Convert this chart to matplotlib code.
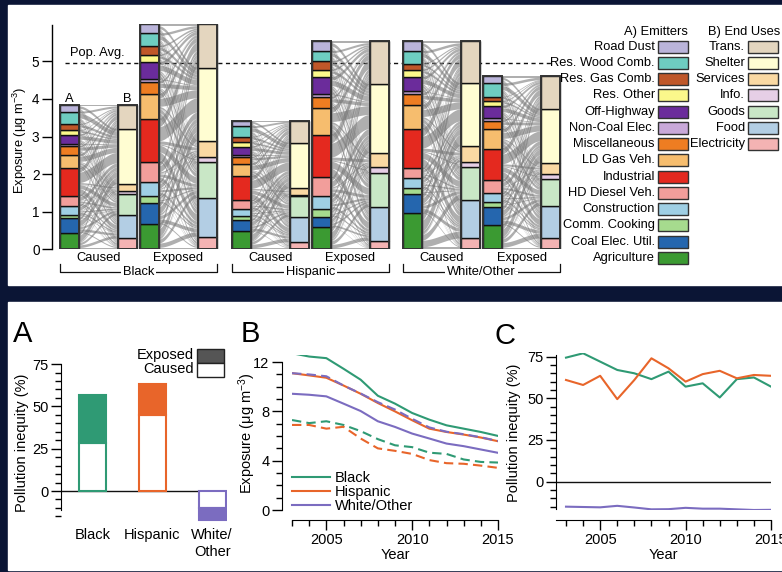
import numpy as np
import matplotlib
matplotlib.use('Agg')
import matplotlib.pyplot as plt
from matplotlib.patches import Rectangle
from matplotlib.ticker import MultipleLocator
from matplotlib.lines import Line2D

plt.rcParams['font.family'] = ['Liberation Sans', 'DejaVu Sans']
plt.rcParams['mathtext.default'] = 'regular'

# ---------------- data ----------------
emitters = ['Agriculture', 'Coal Elec. Util.', 'Comm. Cooking', 'Construction',
            'HD Diesel Veh.', 'Industrial', 'LD Gas Veh.', 'Miscellaneous',
            'Non-Coal Elec.', 'Off-Highway', 'Res. Other', 'Res. Gas Comb.',
            'Res. Wood Comb.', 'Road Dust']            # bottom -> top
end_uses = ['Electricity', 'Food', 'Goods', 'Info.', 'Services', 'Shelter', 'Trans.']
groups_top = ['Black', 'Hispanic', 'White/Other']

black_caused_em = [0.44, 0.39, 0.09, 0.24, 0.27, 0.73, 0.36, 0.22, 0.06, 0.25, 0.11, 0.17, 0.33, 0.17]
black_caused_use = [0.29, 0.62, 0.56, 0.07, 0.20, 1.46, 0.63]
black_exposed_em = [0.67, 0.56, 0.20, 0.37, 0.51, 1.16, 0.66, 0.33, 0.07, 0.44, 0.20, 0.24, 0.33, 0.24]
black_exposed_use = [0.34, 1.03, 0.94, 0.15, 0.43, 1.94, 1.15]
hisp_caused_em = [0.48, 0.31, 0.10, 0.18, 0.23, 0.64, 0.34, 0.17, 0.06, 0.22, 0.12, 0.14, 0.28, 0.15]
hisp_caused_use = [0.19, 0.68, 0.54, 0.04, 0.18, 1.20, 0.59]
hisp_exposed_em = [0.58, 0.29, 0.20, 0.35, 0.49, 1.14, 0.72, 0.28, 0.09, 0.43, 0.21, 0.22, 0.27, 0.27]
hisp_exposed_use = [0.23, 0.90, 0.91, 0.14, 0.39, 1.82, 1.15]
white_caused_em = [0.96, 0.50, 0.16, 0.28, 0.25, 1.06, 0.62, 0.31, 0.06, 0.38, 0.20, 0.16, 0.33, 0.26]
white_caused_use = [0.29, 1.02, 0.88, 0.14, 0.42, 1.67, 1.11]
white_exposed_em = [0.65, 0.48, 0.14, 0.22, 0.35, 0.84, 0.51, 0.23, 0.06, 0.33, 0.13, 0.11, 0.36, 0.19]
white_exposed_use = [0.29, 0.87, 0.71, 0.13, 0.30, 1.43, 0.87]
pop_avg = 4.95

groups_A = ['Black', 'Hispanic', 'White/\nOther']
caused_ineq = [28.5, 44.9, -10.2]
exposed_ineq = [56.7, 63.0, -17.1]

years = list(range(2003, 2016))
black_exp = [12.72, 12.45, 12.32, 11.46, 10.57, 9.27, 8.63, 7.87, 7.33, 6.87, 6.60, 6.33, 6.01]
black_cau = [7.30, 7.05, 7.20, 6.90, 6.40, 5.75, 5.25, 5.10, 4.65, 4.55, 4.10, 3.90, 3.85]
hisp_exp = [11.10, 10.92, 10.73, 10.10, 9.43, 8.68, 8.00, 7.28, 6.60, 6.33, 6.12, 5.88, 5.58]
hisp_cau = [6.90, 6.90, 6.60, 6.75, 5.80, 5.00, 4.80, 4.55, 4.05, 3.80, 3.75, 3.60, 3.42]
white_exp = [9.43, 9.35, 9.22, 8.63, 8.03, 7.20, 6.74, 6.20, 5.80, 5.39, 5.18, 4.91, 4.64]
white_cau = [11.10, 11.00, 10.85, 10.10, 9.45, 8.75, 8.15, 7.40, 6.70, 6.35, 6.15, 5.90, 5.60]

black_ineq = [74.4, 77.0, 72.0, 67.0, 65.0, 61.5, 66.0, 57.0, 59.0, 50.5, 61.5, 62.5, 57.0]
hisp_ineq = [61.0, 58.0, 63.5, 49.5, 61.0, 74.0, 68.0, 60.0, 64.5, 66.5, 62.0, 64.0, 63.5]
white_ineq = [-15.0, -15.2, -15.4, -14.5, -15.5, -16.6, -16.5, -15.7, -16.2, -16.2, -16.6, -17.0, -16.9]

# ---------------- styles ----------------
em_colors = ['#3b9a32', '#2566ae', '#a6db8e', '#9fcfe4', '#f29e9b', '#e4291f',
             '#f6bd6e', '#ee7d22', '#c9a9d9', '#6b2c9b', '#fbf88b', '#bf5729',
             '#6ecdc1', '#bab4da']
use_colors = ['#f4b3b3', '#b3cee4', '#c9e7c6', '#e6cfe6', '#fad9a3', '#fffdd2', '#e4d6bf']
c_black, c_hisp, c_white = '#2f9a74', '#e8652a', '#7b6cc0'
ink = '#111111'
fs_top = 9.3
fs_bot = 10.5

W, H = 782, 572
fig = plt.figure(figsize=(W / 100, H / 100), dpi=100, facecolor='#0b1535')


def ax_px(x0, y0, x1, y1):
    return fig.add_axes([x0 / W, 1 - y1 / H, (x1 - x0) / W, (y1 - y0) / H])


bg = ax_px(0, 0, W, H)
bg.set_xlim(0, W); bg.set_ylim(H, 0); bg.axis('off')
bg.add_patch(Rectangle((8, 5), W - 8, 280, color='white'))
bg.add_patch(Rectangle((8, 302), W - 8, 268, color='white'))

# ---------------- top alluvial panel ----------------
ax = ax_px(52, 23.7, 782, 249.3)
ax.set_xlim(52, 782); ax.set_ylim(0, 6)
ax.patch.set_alpha(0)
for s in ['top', 'right', 'bottom']:
    ax.spines[s].set_visible(False)
ax.spines['left'].set_bounds(0, 5.97)
ax.spines['left'].set_linewidth(1.0)
ax.set_xticks([])
ax.set_yticks(range(6))
ax.tick_params(axis='y', length=7, width=1, labelsize=9.8, pad=2)

colw = 19
gap = 58
t = np.linspace(0, 1, 40)
s = 3 * t ** 2 - 2 * t ** 3


def column(x, vals, colors):
    vals = np.asarray(vals)
    bottoms = np.concatenate([[0], np.cumsum(vals)[:-1]])
    ax.bar(x, vals, bottom=bottoms, width=colw, align='edge', color=colors,
           edgecolor=ink, linewidth=1.0, zorder=4)
    ax.bar(x, vals.sum(), width=colw, align='edge', fill=False,
           edgecolor='#333333', linewidth=1.4, zorder=5)


def alluvial(x, em, use):
    em = np.asarray(em); use = np.asarray(use)
    tot = em.sum()
    flows = np.outer(em, use) / tot
    e_lo = np.concatenate([[0], np.cumsum(em)[:-1]])
    u_lo = np.concatenate([[0], np.cumsum(use)[:-1]])
    xa, xb = x + colw, x + gap
    xs = xa + (xb - xa) * t
    for i in range(len(em)):
        for j in range(len(use)):
            f = flows[i, j]
            a0 = e_lo[i] + flows[i, :j].sum()
            b0 = u_lo[j] + flows[:i, j].sum()
            bot = a0 + (b0 - a0) * s
            top = bot + f
            ax.fill(np.concatenate([xs, xs[::-1]]), np.concatenate([top, bot[::-1]]),
                    color='#7a7a7a', alpha=0.6, lw=0, zorder=2)
    column(x, em, em_colors)
    column(x + gap, use, use_colors)


group_x = [60, 232, 403]
data_top = [(black_caused_em, black_caused_use, black_exposed_em, black_exposed_use),
            (hisp_caused_em, hisp_caused_use, hisp_exposed_em, hisp_exposed_use),
            (white_caused_em, white_caused_use, white_exposed_em, white_exposed_use)]

ax.plot([65, 552], [pop_avg, pop_avg], color=ink, lw=1.0, ls=(0, (3, 2.5)), zorder=1)
ax.text(70, 5.22, 'Pop. Avg.', fontsize=fs_top, ha='left', va='center')

for gx, name, (ce, cu, ee, eu) in zip(group_x, groups_top, data_top):
    alluvial(gx, ce, cu)
    alluvial(gx + 80, ee, eu)
    ax.text(gx + (colw + gap) / 2, -0.24, 'Caused', fontsize=fs_top, ha='center', va='center', clip_on=False)
    ax.text(gx + 80 + (colw + gap) / 2, -0.24, 'Exposed', fontsize=fs_top, ha='center', va='center', clip_on=False)
    x0, x1 = gx, gx + 80 + gap + colw
    ax.plot([x0, x0, x1, x1], [-0.39, -0.60, -0.60, -0.39], color=ink, lw=0.9, clip_on=False)
    ax.text((x0 + x1) / 2, -0.60, name, fontsize=fs_top, ha='center', va='center', clip_on=False,
            bbox=dict(facecolor='white', edgecolor='none', pad=1.5))

ax.text(group_x[0] + colw / 2, 4.0, 'A', fontsize=fs_top, ha='center', va='center')
ax.text(group_x[0] + gap + colw / 2, 4.0, 'B', fontsize=fs_top, ha='center', va='center')

fig.text(20 / W, 1 - 140 / H, 'Exposure (μg m$^{-3}$)', rotation=90, fontsize=fs_top,
         ha='center', va='center')

# ---------------- panel A ----------------
axA = ax_px(61, 364.1, 227, 521.5)
axA.set_xlim(-0.53, 2.25); axA.set_ylim(-18, 75)
axA.patch.set_alpha(0)
cols = [c_black, c_hisp, c_white]
for i in range(3):
    axA.bar(i, caused_ineq[i], width=0.45, facecolor='white', edgecolor=cols[i], lw=1.5, zorder=3)
    axA.bar(i, exposed_ineq[i] - caused_ineq[i], bottom=caused_ineq[i], width=0.45,
            facecolor=cols[i], edgecolor=cols[i], lw=1.5, zorder=3)
axA.plot([-0.53, 2.22], [0, 0], color=ink, lw=1.0, zorder=2)
for s_ in ['top', 'right', 'bottom']:
    axA.spines[s_].set_visible(False)
axA.spines['left'].set_bounds(-11.5, 75)
axA.yaxis.set_major_locator(MultipleLocator(25))
axA.yaxis.set_minor_locator(MultipleLocator(5))
axA.tick_params(axis='y', which='major', length=7, width=1, labelsize=fs_bot, pad=2)
axA.tick_params(axis='y', which='minor', length=4, width=1)
axA.set_xticks(range(3))
axA.set_xticklabels(groups_A, fontsize=fs_bot)
axA.tick_params(axis='x', length=0, pad=5)
fig.text(22 / W, 1 - 443 / H, 'Pollution inequity (%)', rotation=90, fontsize=fs_bot,
         ha='center', va='center')

# ---------------- panel B ----------------
axB = ax_px(292, 354.7, 498, 510)
axB.set_xlim(2003, 2015); axB.set_ylim(0, 12.6)
axB.patch.set_alpha(0)
dash = (0, (4.5, 2.5))
axB.plot(years, black_exp, color=c_black, lw=1.5)
axB.plot(years, hisp_exp, color=c_hisp, lw=1.5)
axB.plot(years, white_exp, color=c_white, lw=1.5)
axB.plot(years, black_cau, color=c_black, lw=1.5, ls=dash)
axB.plot(years, hisp_cau, color=c_hisp, lw=1.5, ls=dash)
axB.plot(years, white_cau, color=c_white, lw=1.5, ls=dash)
for s_ in ['top', 'right']:
    axB.spines[s_].set_visible(False)
axB.spines['left'].set_position(('outward', 7.2))
axB.spines['bottom'].set_position(('outward', 7.2))
axB.spines['left'].set_bounds(0, 12)
axB.spines['bottom'].set_bounds(2003, 2015)
axB.yaxis.set_major_locator(MultipleLocator(4))
axB.yaxis.set_minor_locator(MultipleLocator(1))
axB.xaxis.set_major_locator(MultipleLocator(5))
axB.xaxis.set_minor_locator(MultipleLocator(1))
axB.tick_params(which='major', length=7, width=1, labelsize=fs_bot, pad=2)
axB.tick_params(which='minor', length=4, width=1)
axB.set_xlabel('Year', fontsize=fs_bot, labelpad=1)
fig.text(247 / W, 1 - 433 / H, 'Exposure (μg m$^{-3}$)', rotation=90, fontsize=fs_bot,
         ha='center', va='center')
handles = [Line2D([], [], color=c, lw=1.5) for c in (c_black, c_hisp, c_white)]
axB.legend(handles, groups_top, loc='lower left', bbox_to_anchor=(0.0, -0.02),
           frameon=False, fontsize=fs_bot, handlelength=2.6, handletextpad=0.35,
           labelspacing=0.0, borderpad=0, borderaxespad=0)

# ---------------- panel C ----------------
axC = ax_px(556, 353.3, 771, 510)
x0C = 2003 - 10 / 17.07
axC.set_xlim(x0C, 2015); axC.set_ylim(-17, 77)
axC.patch.set_alpha(0)
axC.axhline(0, color=ink, lw=1.0)
axC.plot(years, black_ineq, color=c_black, lw=1.5)
axC.plot(years, hisp_ineq, color=c_hisp, lw=1.5)
axC.plot(years, white_ineq, color=c_white, lw=1.5)
for s_ in ['top', 'right']:
    axC.spines[s_].set_visible(False)
axC.spines['bottom'].set_position(('outward', 7.2))
axC.spines['left'].set_bounds(-16.6, 76)
axC.spines['bottom'].set_bounds(x0C, 2015)
axC.yaxis.set_major_locator(MultipleLocator(25))
axC.yaxis.set_minor_locator(MultipleLocator(5))
axC.xaxis.set_major_locator(MultipleLocator(5))
axC.xaxis.set_minor_locator(MultipleLocator(1))
axC.tick_params(which='major', length=7, width=1, labelsize=fs_bot, pad=2)
axC.tick_params(which='minor', length=4, width=1)
axC.set_xlabel('Year', fontsize=fs_bot, labelpad=1)
fig.text(514 / W, 1 - 433 / H, 'Pollution inequity (%)', rotation=90, fontsize=fs_bot,
         ha='center', va='center')

# ---------------- overlay: legends & panel letters ----------------
ov = ax_px(0, 0, W, H)
ov.set_xlim(0, W); ov.set_ylim(H, 0); ov.axis('off')
row0, drow = 46.7, 16.25
ov.text(688, 32, 'A) Emitters', fontsize=fs_top, ha='right', va='center')
ov.text(780, 32, 'B) End Uses', fontsize=fs_top, ha='right', va='center')
for k, (name, c) in enumerate(zip(emitters[::-1], em_colors[::-1])):
    y = row0 + k * drow
    ov.add_patch(Rectangle((658, y - 6), 30, 12, facecolor=c, edgecolor='#333333', lw=1.0))
    ov.text(655, y, name, fontsize=fs_top, ha='right', va='center')
for k, (name, c) in enumerate(zip(end_uses[::-1], use_colors[::-1])):
    y = row0 + k * drow
    ov.add_patch(Rectangle((748, y - 6), 30, 12, facecolor=c, edgecolor='#333333', lw=1.0))
    ov.text(745, y, name, fontsize=fs_top, ha='right', va='center')

ov.add_patch(Rectangle((197, 349), 27, 14, facecolor='#555555', edgecolor='#222222', lw=1.0))
ov.add_patch(Rectangle((197, 363), 27, 14, facecolor='white', edgecolor='#222222', lw=1.0))
ov.text(194, 355, 'Exposed', fontsize=fs_bot, ha='right', va='center')
ov.text(194, 369, 'Caused', fontsize=fs_bot, ha='right', va='center')

ov.text(13, 334, 'A', fontsize=21, ha='left', va='center')
ov.text(241, 334, 'B', fontsize=21, ha='left', va='center')
ov.text(494, 336, 'C', fontsize=21, ha='left', va='center')

fig.savefig('out.png', dpi=100, facecolor=fig.get_facecolor())
